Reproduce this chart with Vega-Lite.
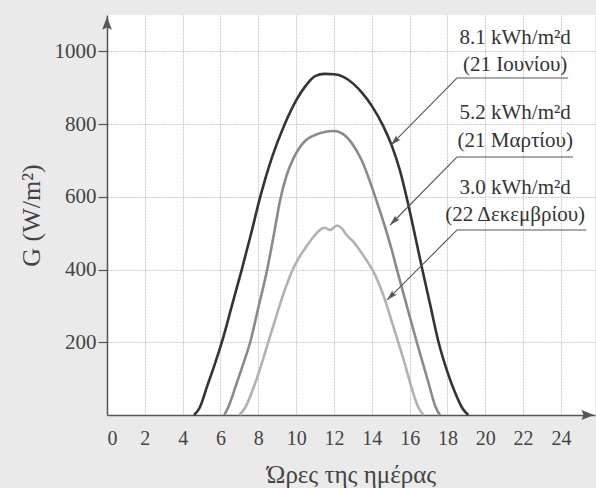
{
  "$schema": "https://vega.github.io/schema/vega-lite/v6.json",
  "width": 488,
  "height": 400,
  "autosize": {"type": "none"},
  "padding": {"left": 107, "top": 15, "right": 1, "bottom": 73},
  "background": "#eaeaea",
  "config": {
    "view": {"fill": "white", "stroke": null},
    "font": "Liberation Serif"
  },
  "datasets": {
    "curves": [
      {"series": "June", "hour": 4.6, "G": 0},
      {"series": "June", "hour": 4.9, "G": 20},
      {"series": "June", "hour": 5.3, "G": 80},
      {"series": "June", "hour": 5.7, "G": 140},
      {"series": "June", "hour": 6.1, "G": 205},
      {"series": "June", "hour": 6.6, "G": 300},
      {"series": "June", "hour": 7.1, "G": 395},
      {"series": "June", "hour": 7.6, "G": 495},
      {"series": "June", "hour": 8.1, "G": 600},
      {"series": "June", "hour": 8.7, "G": 705},
      {"series": "June", "hour": 9.4, "G": 800},
      {"series": "June", "hour": 10.0, "G": 865},
      {"series": "June", "hour": 10.5, "G": 905},
      {"series": "June", "hour": 11.0, "G": 932},
      {"series": "June", "hour": 11.5, "G": 938},
      {"series": "June", "hour": 12.0, "G": 937},
      {"series": "June", "hour": 12.5, "G": 930},
      {"series": "June", "hour": 13.0, "G": 912},
      {"series": "June", "hour": 13.5, "G": 885},
      {"series": "June", "hour": 14.0, "G": 850},
      {"series": "June", "hour": 14.6, "G": 795},
      {"series": "June", "hour": 15.06, "G": 740},
      {"series": "June", "hour": 15.5, "G": 670},
      {"series": "June", "hour": 15.9, "G": 585},
      {"series": "June", "hour": 16.3, "G": 490},
      {"series": "June", "hour": 16.65, "G": 405},
      {"series": "June", "hour": 17.1, "G": 300},
      {"series": "June", "hour": 17.53, "G": 200},
      {"series": "June", "hour": 18.0, "G": 118},
      {"series": "June", "hour": 18.4, "G": 62},
      {"series": "June", "hour": 18.8, "G": 18},
      {"series": "June", "hour": 19.1, "G": 0},
      {"series": "March", "hour": 6.2, "G": 0},
      {"series": "March", "hour": 6.4, "G": 20},
      {"series": "March", "hour": 6.86, "G": 88},
      {"series": "March", "hour": 7.2, "G": 140},
      {"series": "March", "hour": 7.57, "G": 200},
      {"series": "March", "hour": 8.0, "G": 295},
      {"series": "March", "hour": 8.47, "G": 400},
      {"series": "March", "hour": 8.8, "G": 490},
      {"series": "March", "hour": 9.15, "G": 590},
      {"series": "March", "hour": 9.5, "G": 660},
      {"series": "March", "hour": 9.85, "G": 705},
      {"series": "March", "hour": 10.4, "G": 750},
      {"series": "March", "hour": 11.0, "G": 770},
      {"series": "March", "hour": 11.5, "G": 778},
      {"series": "March", "hour": 12.0, "G": 781},
      {"series": "March", "hour": 12.4, "G": 775},
      {"series": "March", "hour": 12.95, "G": 747},
      {"series": "March", "hour": 13.47, "G": 700},
      {"series": "March", "hour": 14.18, "G": 600},
      {"series": "March", "hour": 14.7, "G": 517},
      {"series": "March", "hour": 15.06, "G": 453},
      {"series": "March", "hour": 15.33, "G": 400},
      {"series": "March", "hour": 15.85, "G": 300},
      {"series": "March", "hour": 16.38, "G": 200},
      {"series": "March", "hour": 17.0, "G": 88},
      {"series": "March", "hour": 17.35, "G": 25},
      {"series": "March", "hour": 17.6, "G": 0},
      {"series": "December", "hour": 7.0, "G": 0},
      {"series": "December", "hour": 7.3, "G": 20},
      {"series": "December", "hour": 7.85, "G": 90},
      {"series": "December", "hour": 8.2, "G": 145},
      {"series": "December", "hour": 8.52, "G": 200},
      {"series": "December", "hour": 8.85, "G": 255},
      {"series": "December", "hour": 9.15, "G": 305},
      {"series": "December", "hour": 9.5, "G": 358},
      {"series": "December", "hour": 9.82, "G": 400},
      {"series": "December", "hour": 10.15, "G": 433},
      {"series": "December", "hour": 10.47, "G": 458},
      {"series": "December", "hour": 11.0, "G": 495},
      {"series": "December", "hour": 11.26, "G": 509},
      {"series": "December", "hour": 11.5, "G": 515},
      {"series": "December", "hour": 11.8, "G": 509},
      {"series": "December", "hour": 12.15, "G": 521},
      {"series": "December", "hour": 12.4, "G": 514},
      {"series": "December", "hour": 12.67, "G": 495},
      {"series": "December", "hour": 13.0, "G": 478},
      {"series": "December", "hour": 13.3, "G": 458},
      {"series": "December", "hour": 13.6, "G": 435},
      {"series": "December", "hour": 13.85, "G": 415},
      {"series": "December", "hour": 14.1, "G": 393},
      {"series": "December", "hour": 14.4, "G": 358},
      {"series": "December", "hour": 14.7, "G": 316},
      {"series": "December", "hour": 15.05, "G": 258},
      {"series": "December", "hour": 15.4, "G": 200},
      {"series": "December", "hour": 15.75, "G": 140},
      {"series": "December", "hour": 16.03, "G": 88},
      {"series": "December", "hour": 16.47, "G": 20},
      {"series": "December", "hour": 16.74, "G": 0}
    ],
    "lines": [
      {"hour": 18.51, "G": 926.8, "hour2": 24.38, "G2": 926.8},
      {"hour": 18.51, "G": 709.6, "hour2": 24.64, "G2": 709.6},
      {"hour": 18.51, "G": 508.8, "hour2": 25.33, "G2": 508.8},
      {"hour": 18.51, "G": 926.8, "hour2": 15.02, "G2": 742.6},
      {"hour": 18.51, "G": 709.6, "hour2": 14.97, "G2": 522.5},
      {"hour": 18.51, "G": 508.8, "hour2": 14.81, "G2": 316.3}
    ],
    "heads": [
      {"hour": 15.22, "G": 753.3},
      {"hour": 15.17, "G": 533.2},
      {"hour": 15.01, "G": 327.0}
    ],
    "labels": [
      {"hour": 21.58, "G": 1036.9, "text": "8.1 kWh/m²d"},
      {"hour": 21.58, "G": 962.6, "text": "(21 Ιουνίου)"},
      {"hour": 21.58, "G": 830.6, "text": "5.2 kWh/m²d"},
      {"hour": 21.58, "G": 753.6, "text": "(21 Μαρτίου)"},
      {"hour": 21.58, "G": 624.3, "text": "3.0 kWh/m²d"},
      {"hour": 21.58, "G": 550.0, "text": "(22 Δεκεμβρίου)"}
    ]
  },
  "layer": [
    {
      "data": {"name": "curves"},
      "mark": {"type": "line", "strokeWidth": 2.6, "interpolate": "monotone"},
      "encoding": {
        "x": {
          "field": "hour", "type": "quantitative",
          "scale": {"domain": [0, 25.8], "nice": false, "zero": false},
          "axis": {
            "title": "Ώρες της ημέρας",
            "values": [0, 2, 4, 6, 8, 10, 12, 14, 16, 18, 20, 22, 24],
            "grid": true, "gridColor": "#c8c8c8", "gridWidth": 1, "gridDash": [2, 1],
            "ticks": false, "labelPadding": 13,
            "labelFont": "Liberation Serif", "labelFontSize": 20, "labelColor": "#444444",
            "domainColor": "#555555", "domainWidth": 1.5,
            "titleFont": "Liberation Serif", "titleFontSize": 25, "titleFontWeight": "normal",
            "titleColor": "#444444", "titlePadding": 14
          }
        },
        "y": {
          "field": "G", "type": "quantitative",
          "scale": {"domain": [0, 1100], "nice": false},
          "axis": {
            "title": "G (W/m²)", "format": "d",
            "values": [200, 400, 600, 800, 1000],
            "grid": true, "gridColor": "#c8c8c8", "gridWidth": 1, "gridDash": [2, 1],
            "tickSize": 9, "tickColor": "#555555", "tickWidth": 1.2, "labelPadding": 2,
            "labelFont": "Liberation Serif", "labelFontSize": 21, "labelColor": "#444444",
            "domainColor": "#555555", "domainWidth": 1.5,
            "titleFont": "Liberation Serif", "titleFontSize": 26, "titleFontWeight": "normal",
            "titleColor": "#444444", "titlePadding": 10
          }
        },
        "color": {
          "field": "series", "type": "nominal",
          "scale": {"domain": ["June", "March", "December"], "range": ["#333333", "#8a8a8a", "#b2b2b2"]},
          "legend": null
        },
        "detail": {"field": "series"}
      }
    },
    {
      "data": {"name": "lines"},
      "mark": {"type": "rule", "color": "#555555", "strokeWidth": 1.1},
      "encoding": {
        "x": {"field": "hour", "type": "quantitative"},
        "y": {"field": "G", "type": "quantitative"},
        "x2": {"field": "hour2"},
        "y2": {"field": "G2"}
      }
    },
    {
      "data": {"name": "heads"},
      "mark": {"type": "point", "shape": "M0,-1L0.55,0.9L0,0.6L-0.55,0.9Z", "filled": true, "color": "#555555", "size": 121, "angle": 225, "opacity": 1},
      "encoding": {
        "x": {"field": "hour", "type": "quantitative"},
        "y": {"field": "G", "type": "quantitative"}
      }
    },
    {
      "data": {"values": [{"hour": 0, "G": 1075}]},
      "mark": {"type": "point", "shape": "M0,-1L0.7,0.8L0,0.5L-0.7,0.8Z", "filled": true, "color": "#555555", "size": 196, "angle": 0, "opacity": 1},
      "encoding": {
        "x": {"field": "hour", "type": "quantitative"},
        "y": {"field": "G", "type": "quantitative"}
      }
    },
    {
      "data": {"values": [{"hour": 25.38, "G": 0}]},
      "mark": {"type": "point", "shape": "M0,-1L0.7,0.8L0,0.5L-0.7,0.8Z", "filled": true, "color": "#555555", "size": 196, "angle": 90, "opacity": 1, "clip": false},
      "encoding": {
        "x": {"field": "hour", "type": "quantitative"},
        "y": {"field": "G", "type": "quantitative"}
      }
    },
    {
      "data": {"name": "labels"},
      "mark": {"type": "text", "font": "Liberation Serif", "fontSize": 21, "color": "#333333", "align": "center", "baseline": "middle"},
      "encoding": {
        "x": {"field": "hour", "type": "quantitative"},
        "y": {"field": "G", "type": "quantitative"},
        "text": {"field": "text"}
      }
    }
  ]
}
